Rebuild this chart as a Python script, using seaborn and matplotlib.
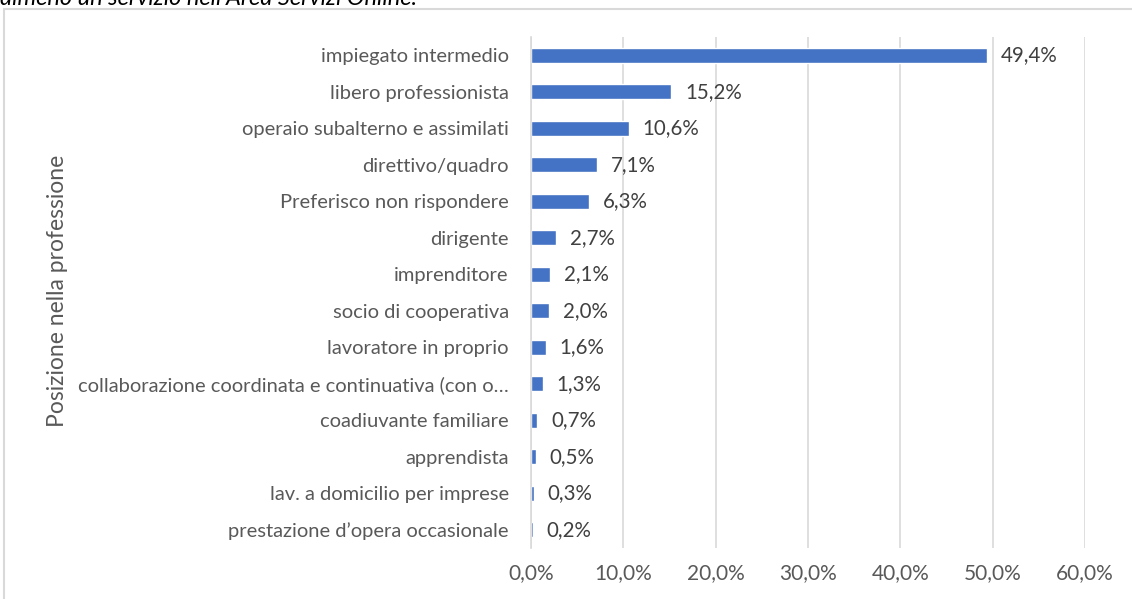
import matplotlib
matplotlib.use("Agg")
import matplotlib.pyplot as plt
import seaborn as sns
import pandas as pd
from matplotlib.patches import Rectangle
from matplotlib.ticker import FuncFormatter

categories = [
    "impiegato intermedio",
    "libero professionista",
    "operaio subalterno e assimilati",
    "direttivo/quadro",
    "Preferisco non rispondere",
    "dirigente",
    "imprenditore",
    "socio di cooperativa",
    "lavoratore in proprio",
    "collaborazione coordinata e continuativa (con o…",
    "coadiuvante familiare",
    "apprendista",
    "lav. a domicilio per imprese",
    "prestazione d’opera occasionale",
]
values = [49.4, 15.2, 10.6, 7.1, 6.3, 2.7, 2.1, 2.0, 1.6, 1.3, 0.7, 0.5, 0.3, 0.2]
x_ticks = [0, 10, 20, 30, 40, 50, 60]
y_label = "Posizione nella professione"
title_text = "almeno un servizio nell'Area Servizi Online."

sns.set_theme(style="white")
plt.rcParams['font.family'] = ['Lato', 'DejaVu Sans']

df = pd.DataFrame({"cat": categories, "val": values})

fig = plt.figure(figsize=(11.32, 5.99), dpi=100)
W, H = 1132, 599
ax = fig.add_axes([531 / W, 1 - 548 / H, (1085 - 531) / W, (548 - 37) / H])

sns.barplot(data=df, x="val", y="cat", orient="h", color="#4472C4",
            saturation=1, width=0.4, ax=ax)

ax.set_xlim(0, 60)
ax.set_xticks(x_ticks)
ax.xaxis.set_major_formatter(FuncFormatter(lambda v, p: f"{v:.1f}%".replace(".", ",")))
ax.grid(axis="x", color="#d9d9d9", linewidth=1.2)
ax.set_axisbelow(True)
for s in ["top", "right", "bottom"]:
    ax.spines[s].set_visible(False)
ax.spines["left"].set_color("#d9d9d9")
ax.spines["left"].set_linewidth(1.2)
ax.tick_params(axis="both", length=0, labelcolor="#595959")
ax.tick_params(axis="y", pad=16, labelsize=14.5)
ax.tick_params(axis="x", pad=11, labelsize=15)
ax.set_xlabel("")
ax.set_ylabel("")

for i, v in enumerate(values):
    ax.text(v + 1.5, i, f"{v:.1f}%".replace(".", ","), va="center", ha="left",
            fontsize=14.8, color="#404040")

fig.text(58 / W, 1 - 291 / H, y_label, rotation=90, va="center", ha="center",
         fontsize=16.5, color="#595959")

# outer chart border
fig.patches.append(Rectangle((4 / W, -0.05), 1.1, 1 - 9 / H + 0.05,
                             transform=fig.transFigure, fill=False,
                             edgecolor="#d9d9d9", linewidth=1.5))

fig.text(0.0, 1 - 5 / H, title_text, style="italic", fontsize=17,
         color="#000000", va="baseline", ha="left")

fig.savefig("out.png", dpi=100)
